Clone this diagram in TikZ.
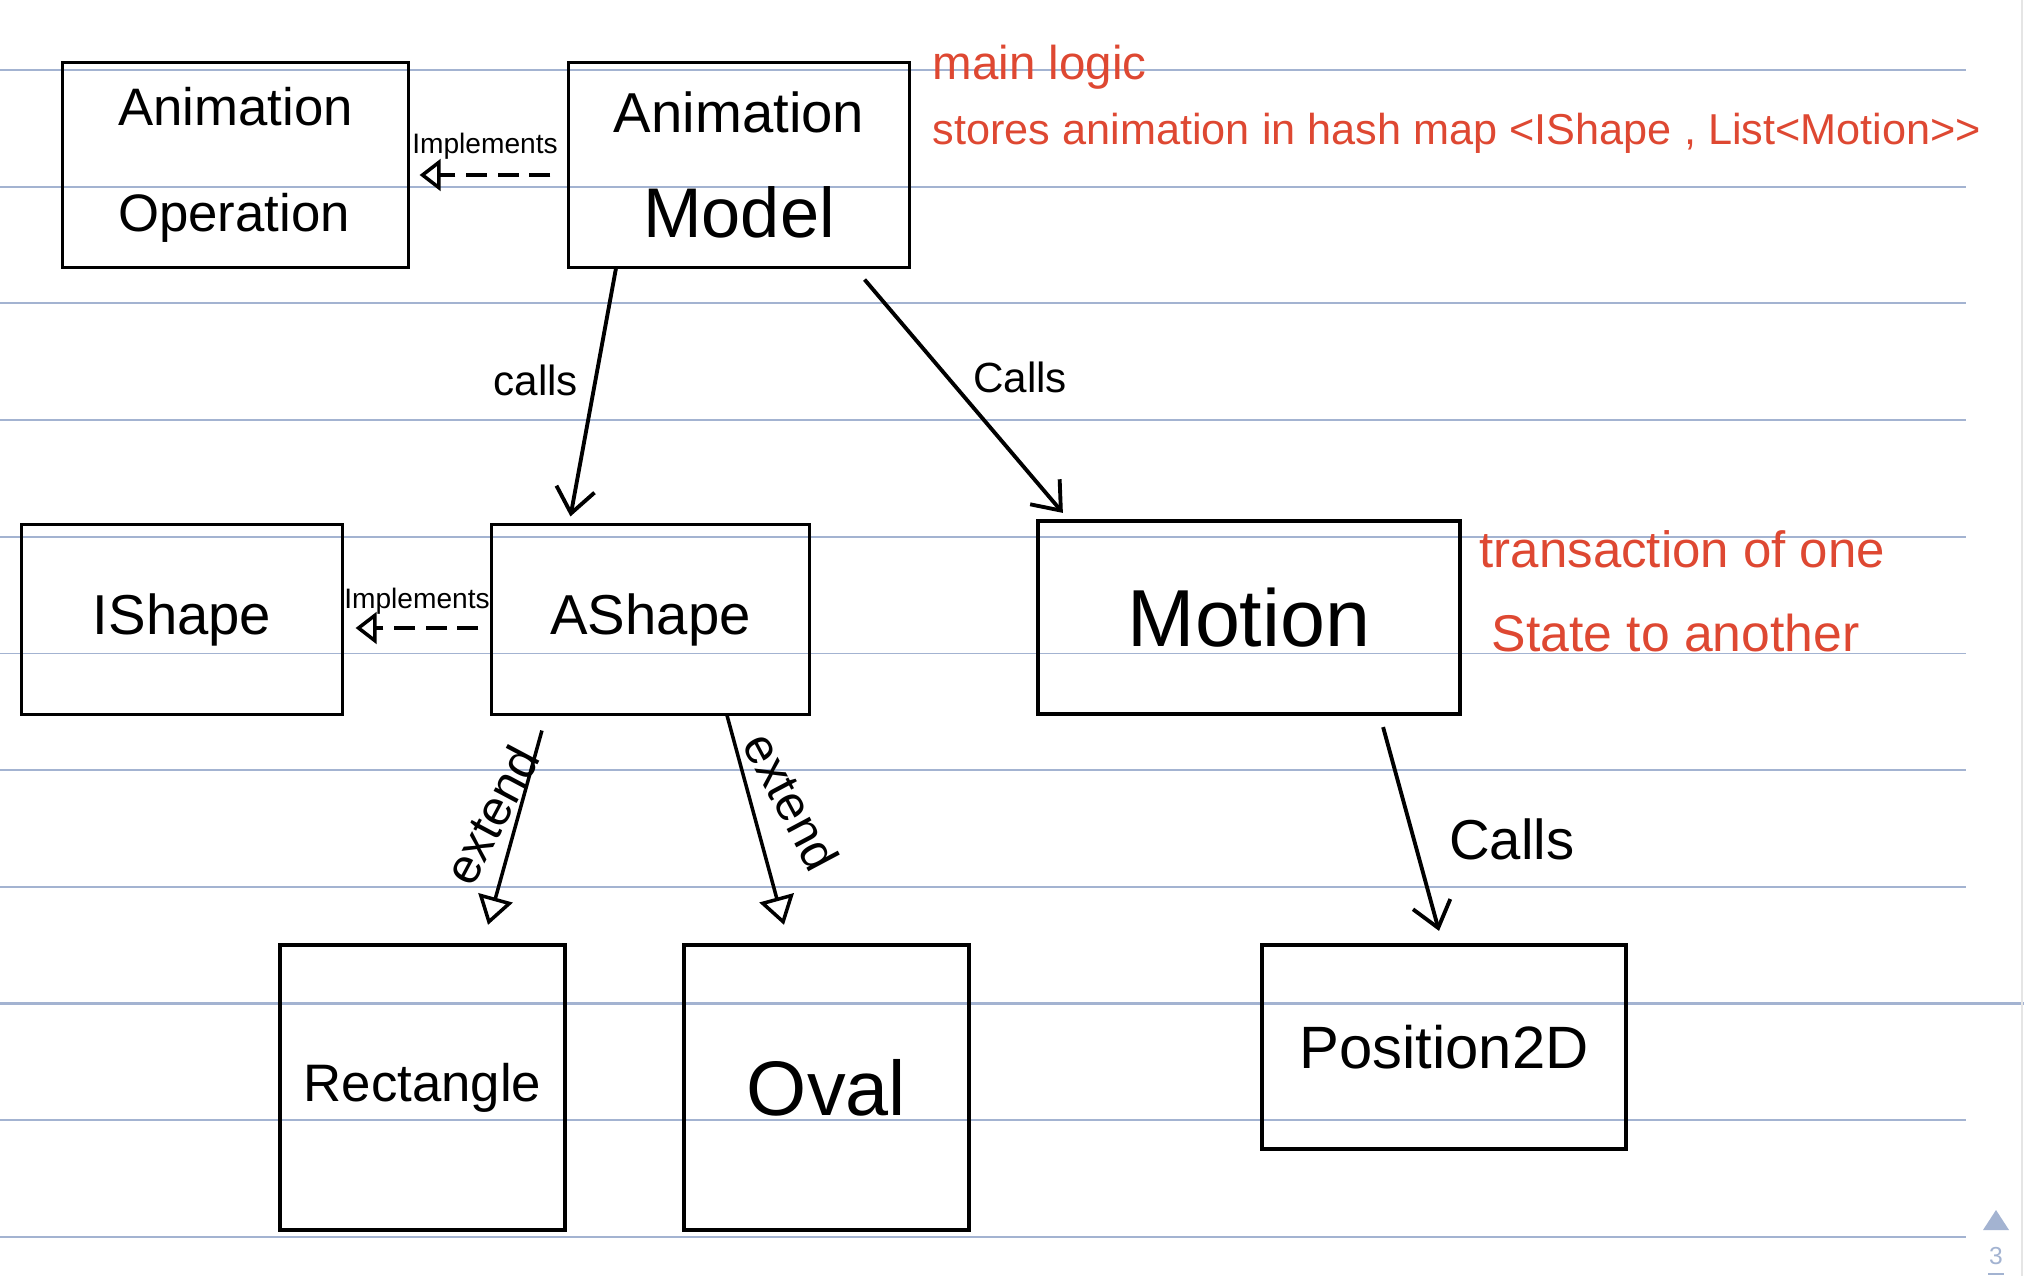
\documentclass[tikz,border=0pt]{standalone}
\usepackage{fontspec}
\setmainfont{Liberation Sans}
\usetikzlibrary{arrows.meta}
\definecolor{rulecol}{RGB}{163,179,209}
\definecolor{notered}{RGB}{222,72,50}
\begin{document}
\begin{tikzpicture}[x=0.01cm,y=-0.01cm,
 box/.style={draw,line width=0.85pt,inner sep=0pt},
 bigbox/.style={box,line width=1.15pt},
 calls/.style={line width=1.1pt,-{Straight Barb[length=7pt,width=11pt]}},
 ext/.style={line width=1pt,-{Triangle[open,length=8pt,width=10pt]}},
 impl/.style={line width=1pt,dash pattern=on 6pt off 3pt,-{Triangle[open,length=6pt,width=9pt]}},
 lbl/.style={inner sep=1pt},
 note/.style={text=notered,anchor=west,inner sep=0pt}]
\useasboundingbox(0,0)rectangle(2024,1276);
\foreach\k in{0,...,10}\draw[rulecol,line width=0.55pt](0,70+116.7*\k)--(1966,70+116.7*\k);%罫線
\draw[rulecol,line width=0.8pt](0,1003.6)--(2024,1003.6);
\draw[gray!20,line width=0.6pt](2022,0)--(2022,1276);%右端
\fill[rulecol](1983,1230)--(2009,1230)--(1996,1210)--cycle;%ページ
\node[text=rulecol,font=\fontsize{7}{8}\selectfont](pg)at(1996,1256){3};
\draw[rulecol,line width=0.6pt](1988,1274)--(2004,1274);
% 箱
\node[box,minimum width=3.45cm,minimum height=2.04cm,align=left,font=\fontsize{15}{30}\selectfont](op)at(235.5,165){Animation\\Operation};
\node[box,minimum width=3.4cm,minimum height=2.04cm,align=center,font=\fontsize{16}{30}\selectfont](model)at(739,165){Animation\\{\fontsize{20}{24}\selectfont Model}};
\node[box,minimum width=3.2cm,minimum height=1.89cm,font=\fontsize{16}{20}\selectfont](ishape)at(182,619.5){IShape};
\node[box,minimum width=3.17cm,minimum height=1.89cm,font=\fontsize{16}{20}\selectfont](ashape)at(650.5,619.5){AShape};
\node[bigbox,minimum width=4.22cm,minimum height=1.93cm,font=\fontsize{23}{28}\selectfont](motion)at(1249,617.5){Motion};
\node[bigbox,minimum width=2.85cm,minimum height=2.85cm,font=\fontsize{15}{20}\selectfont](rect)at(422.5,1087.5){Rectangle};
\node[bigbox,minimum width=2.85cm,minimum height=2.85cm,font=\fontsize{22}{26}\selectfont](oval)at(826.5,1087.5){Oval};
\node[bigbox,minimum width=3.64cm,minimum height=2.04cm,font=\fontsize{17}{22}\selectfont](pos)at(1444,1047){Position2D};
% 矢印
\draw[impl]([xshift=-0.17cm,yshift=-0.1cm]model.west)--node[above=0.1cm,lbl,font=\fontsize{8}{9}\selectfont]{Implements}([xshift=0.1cm,yshift=-0.1cm]op.east);
\draw[impl]([xshift=-0.12cm,yshift=-0.085cm]ashape.west)--node[above=0.08cm,lbl,font=\fontsize{8}{9}\selectfont]{Implements}([xshift=0.12cm,yshift=-0.085cm]ishape.east);
\draw[calls]([xshift=-1.23cm]model.south)--node[pos=.45,left=0.12cm,lbl,font=\fontsize{12}{14}\selectfont]{calls}([xshift=-0.8cm,yshift=0.07cm]ashape.north);
\draw[calls]([xshift=-0.46cm,yshift=-0.11cm]model.south east)--node[pos=.42,right=0.2cm,lbl,font=\fontsize{12}{14}\selectfont]{Calls}([xshift=0.27cm,yshift=0.06cm]motion.north west);
\draw[calls]([xshift=1.34cm,yshift=-0.11cm]motion.south)--node[pos=.55,right=0.3cm,lbl,font=\fontsize{16}{18}\selectfont]{Calls}([xshift=-0.05cm,yshift=0.12cm]pos.north);
\draw[ext]([xshift=-1.085cm,yshift=-0.15cm]ashape.south)--node[pos=.5,rotate=62,anchor=south,inner sep=2pt,font=\fontsize{14}{16}\selectfont]{extend}([xshift=0.655cm,yshift=0.18cm]rect.north);
\draw[ext]([xshift=0.765cm]ashape.south)--node[pos=.5,rotate=-62,anchor=south,inner sep=6pt,font=\fontsize{14}{16}\selectfont]{extend}([xshift=-0.425cm,yshift=0.18cm]oval.north);
% メモ
\node[note,font=\fontsize{13.5}{16}\selectfont](n1)at(932,67){main logic};
\node[note,font=\fontsize{12.3}{15}\selectfont](n2)at(932,133){stores animation in hash map <IShape , List<Motion>{}>};
\node[note,font=\fontsize{14.5}{16}\selectfont](n3)at(1479,549){transaction of one};
\node[note,font=\fontsize{14.7}{16}\selectfont](n4)at(1491,633){State to another};
\end{tikzpicture}
\end{document}
